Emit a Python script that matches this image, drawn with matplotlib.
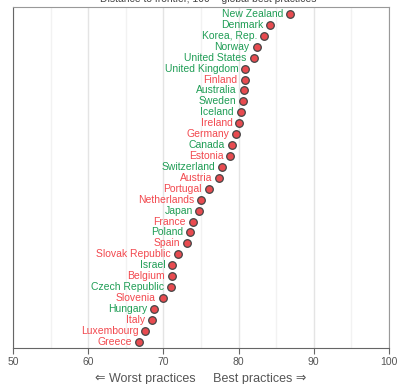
import numpy as np
import matplotlib
matplotlib.use('Agg')
import matplotlib.pyplot as plt
from matplotlib.ticker import MultipleLocator

plt.rcParams['font.family'] = ['Liberation Sans', 'DejaVu Sans']

# countries from top (best) to bottom
countries = ['New Zealand', 'Denmark', 'Korea, Rep.', 'Norway', 'United States',
             'United Kingdom', 'Finland', 'Australia', 'Sweden', 'Iceland', 'Ireland',
             'Germany', 'Canada', 'Estonia', 'Switzerland', 'Austria', 'Portugal',
             'Netherlands', 'Japan', 'France', 'Poland', 'Spain', 'Slovak Republic',
             'Israel', 'Belgium', 'Czech Republic', 'Slovenia', 'Hungary', 'Italy',
             'Luxembourg', 'Greece']
scores = [86.9, 84.2, 83.4, 82.4, 82.0, 80.9, 80.8, 80.7, 80.6, 80.3, 80.1,
          79.7, 79.1, 78.9, 77.8, 77.4, 76.0, 75.0, 74.8, 73.9, 73.6, 73.2, 71.9,
          71.2, 71.1, 71.0, 69.9, 68.8, 68.5, 67.6, 66.7]
# 'g' = green label, 'r' = red label
groups = ['g', 'g', 'g', 'g', 'g', 'g', 'r', 'g', 'g', 'g', 'r',
          'r', 'g', 'r', 'g', 'r', 'r', 'r', 'g', 'r', 'g', 'r', 'r',
          'g', 'r', 'g', 'r', 'g', 'r', 'r', 'r']

green = '#1f9d55'
red = '#f2484e'
dot_color = '#e84b50'

fig = plt.figure(figsize=(4, 3.84), dpi=100)
ax = fig.add_axes([0.0325, 0.0945, 0.94, 0.8875])

n = len(countries)
ypos = np.arange(n, 0, -1)

ax.xaxis.set_major_locator(MultipleLocator(10))
ax.xaxis.set_minor_locator(MultipleLocator(5))
ax.grid(which='major', axis='x', color='#e4e4e4', lw=1, zorder=0)
ax.grid(which='minor', axis='x', color='#f2f2f2', lw=1, zorder=0)
ax.set_axisbelow(True)

ax.scatter(scores, ypos, s=30, color=dot_color, edgecolor='#444444', linewidth=0.9, zorder=3)

for c, s, y, g in zip(countries, scores, ypos, groups):
    ax.annotate(c, (s, y), xytext=(-5, 0), textcoords='offset points',
                ha='right', va='center', fontsize=7.5,
                color=green if g == 'g' else red)

ax.set_xlim(50, 100)
ax.set_ylim(0.45, n + 0.65)
ax.set_yticks([])
ax.tick_params(axis='x', which='major', length=4, color='#666666', labelcolor='#555555', labelsize=7.5, pad=3)
ax.tick_params(axis='x', which='minor', length=0)
for side in ['left', 'bottom']:
    ax.spines[side].set_color('#666666')
for side in ['top', 'right']:
    ax.spines[side].set_color('#999999')

ax.set_xlabel('\u21d0 Worst practices     Best practices \u21d2', fontsize=9, color='#555555', labelpad=4)
fig.text(0.52, 1.003, 'Distance to frontier, 100 = global best practices',
         ha='center', va='center', fontsize=7.5, color='#444444')

fig.savefig('out.png', dpi=100)
